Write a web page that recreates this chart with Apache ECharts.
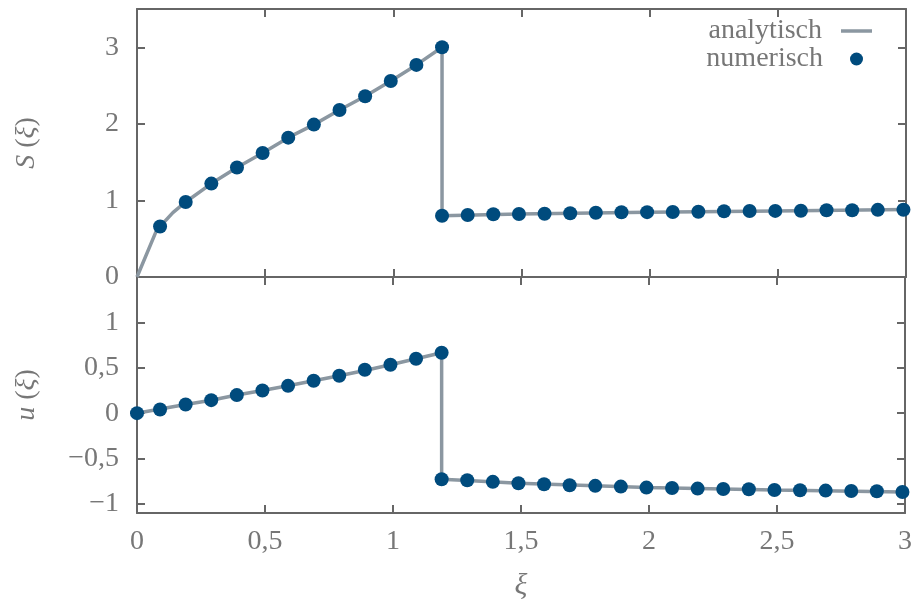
<!DOCTYPE html>
<html>
<head>
<meta charset="utf-8">
<script src="https://cdn.jsdelivr.net/npm/echarts@6/dist/echarts.min.js"></script>
<style>
html,body{margin:0;padding:0;background:#fff;}
#c{width:915px;height:602px;}
</style>
</head>
<body>
<div id="c"></div>
<script>
// ---- data ----
const xNumS = [0.09,0.19,0.29,0.39,0.49,0.59,0.69,0.79,0.89,0.99,1.09,1.19,
               1.19,1.29,1.39,1.49,1.59,1.69,1.79,1.89,1.99,2.09,2.19,2.29,2.39,2.49,2.59,2.69,2.79,2.89,2.99];
const sNum  = [0.66,0.98,1.22,1.43,1.62,1.82,1.99,2.18,2.36,2.56,2.77,3.00,
               0.80,0.81,0.82,0.823,0.827,0.832,0.84,0.845,0.847,0.849,0.853,0.858,0.862,0.863,0.866,0.871,0.872,0.877,0.879];
const xAnaS = [0,0.075,0.09,0.14,0.19,0.29,0.39,0.49,0.59,0.69,0.79,0.89,0.99,1.09,1.19,
               1.19,1.49,1.99,2.49,3.0];
const sAna  = [0,0.60,0.66,0.84,0.98,1.22,1.43,1.62,1.82,1.99,2.18,2.36,2.56,2.77,3.00,
               0.80,0.823,0.847,0.863,0.88];

const xNumU = [0,0.09,0.19,0.29,0.39,0.49,0.59,0.69,0.79,0.89,0.99,1.09,1.19,
               1.19,1.29,1.39,1.49,1.59,1.69,1.79,1.89,1.99,2.09,2.19,2.29,2.39,2.49,2.59,2.69,2.79,2.89,2.99];
const uNum  = [0,0.04,0.096,0.143,0.199,0.25,0.301,0.357,0.412,0.478,0.533,0.599,0.665,
               -0.728,-0.739,-0.757,-0.772,-0.783,-0.794,-0.801,-0.809,-0.82,-0.824,-0.831,-0.835,-0.838,-0.846,-0.849,-0.853,-0.857,-0.86,-0.868];
const xAnaU = [0,0.09,0.19,0.29,0.39,0.49,0.59,0.69,0.79,0.89,0.99,1.09,1.19,
               1.19,1.29,1.49,1.79,1.99,2.49,2.99,3.0];
const uAna  = [0,0.045,0.096,0.143,0.199,0.25,0.301,0.357,0.412,0.47,0.533,0.599,0.665,
               -0.728,-0.742,-0.772,-0.801,-0.82,-0.846,-0.868,-0.869];

const xTicks = [0,0.5,1,1.5,2,2.5,3];
const sTicks = [0,1,2,3];
const uTicks = [-1,-0.5,0,0.5,1];

// ---- styles ----
const AXIS = '#666666';
const TEXT = '#777777';
const LINE = '#8b97a1';
const DOT = '#004b7d';
const FONT = 'Liberation Serif';
const FS = 28;

function fmt(v){ return String(v).replace('.', ',').replace('-', '\u2212'); }
function zip(a,b){ return a.map((v,i)=>[v,b[i]]); }

function xAx(grid, pos, labels, name){
  return {
    type:'value', gridIndex:grid, position:pos, min:0, max:3, interval:0.5,
    axisLine:{show:true, onZero:false, lineStyle:{color:AXIS, width:2}},
    axisTick:{show:true, inside:true, length:8, lineStyle:{color:AXIS, width:2}},
    axisLabel:{show:labels, margin:15, color:TEXT, fontFamily:FONT, fontSize:FS, formatter:fmt},
    splitLine:{show:false},
    name: name || '', nameLocation:'middle', nameGap:58,
    nameTextStyle:{color:TEXT, fontFamily:FONT, fontSize:30, fontStyle:'italic'}
  };
}
function yAx(grid, pos, labels, min, max, ticks, name){
  return {
    type:'value', gridIndex:grid, position:pos, min:min, max:max,
    axisLine:{show:true, onZero:false, lineStyle:{color:AXIS, width:2}},
    axisTick:{show:true, inside:true, length:8, customValues:ticks, lineStyle:{color:AXIS, width:2}},
    axisLabel:{show:labels, margin:18, customValues:ticks, color:TEXT, fontFamily:FONT, fontSize:FS, formatter:fmt},
    splitLine:{show:false},
    name: name || '', nameLocation:'middle', nameGap:96, nameRotate:90,
    nameTextStyle:{color:TEXT, fontFamily:FONT, fontSize:FS,
      rich:{i:{fontStyle:'italic', fontFamily:FONT, fontSize:FS, color:TEXT}, r:{fontFamily:FONT, fontSize:FS, color:TEXT}}}
  };
}

const chart = echarts.init(document.getElementById('c'), null, {renderer:'canvas'});
chart.setOption({
  animation:false,
  backgroundColor:'#ffffff',
  textStyle:{fontFamily:FONT},
  grid:[
    {left:137, right:9, top:9, height:268},
    {left:137, right:9, top:277, height:236}
  ],
  xAxis:[
    xAx(0,'bottom',false),
    xAx(0,'top',false),
    xAx(1,'bottom',true,'ξ'),
    xAx(1,'top',false)
  ],
  yAxis:[
    yAx(0,'left',true,0,3.5,sTicks,'{i|S}{r| (}{i|ξ}{r|)}'),
    yAx(0,'right',false,0,3.5,sTicks),
    yAx(1,'left',true,-1.1,1.5,uTicks,'{i|u}{r| (}{i|ξ}{r|)}'),
    yAx(1,'right',false,-1.1,1.5,uTicks)
  ],
  legend:[
    {data:[{name:'analytisch', icon:'rect'}], right:43, top:16, padding:0, align:'right',
     itemWidth:31, itemHeight:3.5, itemGap:0,
     textStyle:{color:TEXT, fontFamily:FONT, fontSize:FS, lineHeight:30, padding:[0,14,0,0]}},
    {data:[{name:'numerisch', icon:'circle'}], right:52, top:44, padding:0, align:'right',
     itemWidth:13, itemHeight:13, itemGap:0,
     textStyle:{color:TEXT, fontFamily:FONT, fontSize:FS, lineHeight:30, padding:[0,22,0,0]}}
  ],
  series:[
    {name:'analytisch', type:'line', xAxisIndex:0, yAxisIndex:0, data:zip(xAnaS,sAna),
     showSymbol:false, symbol:'none', lineStyle:{color:LINE, width:3.5}, itemStyle:{color:LINE}, z:2},
    {name:'numerisch', type:'scatter', xAxisIndex:0, yAxisIndex:0, data:zip(xNumS,sNum),
     symbol:'circle', symbolSize:14, itemStyle:{color:DOT, opacity:1}, clip:false, z:3},
    {name:'analytisch', type:'line', xAxisIndex:2, yAxisIndex:2, data:zip(xAnaU,uAna),
     showSymbol:false, symbol:'none', lineStyle:{color:LINE, width:3.5}, itemStyle:{color:LINE}, z:2},
    {name:'numerisch', type:'scatter', xAxisIndex:2, yAxisIndex:2, data:zip(xNumU,uNum),
     symbol:'circle', symbolSize:14, itemStyle:{color:DOT, opacity:1}, clip:false, z:3}
  ]
});
</script>
</body>
</html>
